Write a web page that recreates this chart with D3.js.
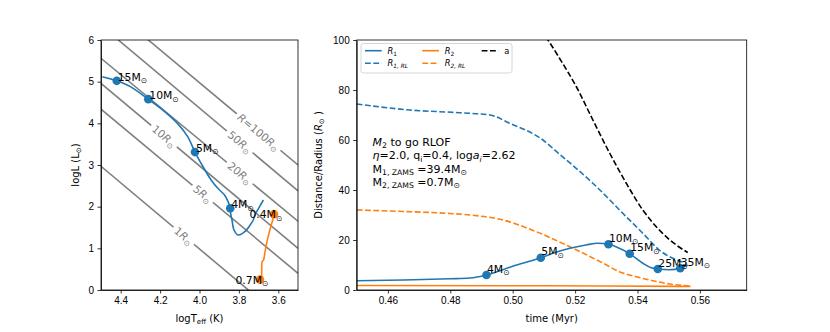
<!DOCTYPE html>
<html>
<head>
<meta charset="utf-8">
<script src="https://cdn.jsdelivr.net/npm/d3@7"></script>
<style>
  body { margin: 0; background: #fff; }
  svg { font-family: "DejaVu Sans", sans-serif; }
  .tick text { font-size: 10px; fill: #000; }
  .tick line, .domain { stroke: #000; stroke-width: 0.8; }
</style>
</head>
<body>
<svg width="830" height="332"></svg>
<script>
// ---- left panel: HR diagram ----
var track1T = [4.493, 4.42, 4.351, 4.26, 4.197, 4.112, 4.06, 4.023, 3.992, 3.941, 3.907, 3.873, 3.855, 3.844, 3.842, 3.835, 3.825, 3.804, 3.77, 3.74, 3.727, 3.719, 3.70, 3.676];
var track1L = [5.12, 5.02, 4.88, 4.58, 4.36, 4.00, 3.68, 3.31, 3.04, 2.64, 2.44, 2.28, 2.12, 1.96, 1.84, 1.68, 1.44, 1.32, 1.40, 1.58, 1.68, 1.80, 1.96, 2.16];
var track2T = [3.685, 3.684, 3.682, 3.675, 3.668, 3.658, 3.645, 3.632, 3.620];
var track2L = [0.22, 0.45, 0.68, 0.72, 0.90, 1.15, 1.40, 1.62, 1.82];

var dots1T = [4.42, 4.26, 4.023, 3.844];
var dots1L = [5.02, 4.58, 3.31, 1.96];
var dots1Mass = ['15', '10', '5', '4'];
var dots2T = [3.693, 3.622];
var dots2L = [0.25, 1.82];
var dots2Mass = ['0.7', '0.4'];

// constant radius lines: logL at logT = 4.5 and at logT = 3.5
var radii = [1, 5, 10, 20, 50, 100];
var radiusLHot = [2.97, 4.34, 4.96, 5.56, 6.35, 6.95];
var radiusLCool = [-1.0, 0.4, 1.0, 1.65, 2.38, 3.0];
var radiusLabelT = [4.08, 3.984, 4.18, 3.796, 3.796, 3.70];

var hrXTicks = [4.4, 4.2, 4.0, 3.8, 3.6];
var hrYTicks = [0, 1, 2, 3, 4, 5, 6];

// ---- right panel: radii vs time ----
var r1Time = [0.450, 0.465, 0.480, 0.4863, 0.4916, 0.500, 0.509, 0.5129, 0.5183, 0.5235, 0.5273, 0.5307, 0.5342, 0.5375, 0.5417, 0.5444, 0.5465, 0.5503, 0.5537, 0.5561];
var r1Val = [3.7, 4.0, 4.5, 4.8, 6.0, 9.5, 12.9, 14.7, 16.7, 18.0, 18.7, 18.3, 16.7, 14.5, 10.7, 8.9, 8.4, 8.1, 8.7, 10.0];
var r1rlTime = [0.450, 0.467, 0.483, 0.4927, 0.499, 0.5097, 0.515, 0.5193, 0.5257, 0.5364, 0.5417, 0.547, 0.5556];
var r1rlVal = [74.4, 72.0, 70.9, 70.0, 66.7, 60.0, 54.3, 49.8, 42.7, 29.3, 22.7, 16.0, 10.7];
var r2Time = [0.450, 0.500, 0.530, 0.557];
var r2Val = [1.8, 1.7, 1.6, 1.4];
var r2rlTime = [0.450, 0.465, 0.480, 0.4863, 0.4969, 0.5076, 0.5183, 0.529, 0.5342, 0.5396, 0.5449, 0.5503, 0.5567];
var r2rlVal = [32.0, 31.4, 30.6, 30.0, 28.0, 23.3, 17.3, 10.7, 7.3, 5.3, 3.7, 2.4, 1.6];
var aTime = [0.5090, 0.5113, 0.515, 0.5204, 0.5257, 0.5311, 0.5364, 0.5417, 0.547, 0.5524, 0.5561];
var aVal = [104, 100, 92.7, 81.3, 68.0, 54.7, 42.7, 32.0, 24.0, 18.0, 15.0];

var massTime = [0.4916, 0.509, 0.5307, 0.5375, 0.5465, 0.5537];
var massVal = [6.0, 12.9, 18.3, 14.5, 8.4, 8.7];
var massLabels = ['4', '5', '10', '15', '25', '35'];

var timeTicks = [0.46, 0.48, 0.50, 0.52, 0.54, 0.56];
var distTicks = [0, 20, 40, 60, 80, 100];

var BLUE = '#1f77b4', ORANGE = '#ff7f0e';
var LW = 1.6, DASH = '5.8,2.5', ANN = 10.8;

var svg = d3.select('svg');
svg.append('rect').attr('width', 830).attr('height', 332).attr('fill', '#fff');

// text with italic / subscript pieces, like matplotlib mathtext
function rich(text, parts, fs) {
  var shift = 0;
  parts.forEach(function(p) {
    var f = p[1] || '';
    var sub = f.indexOf('s') >= 0;
    var target = sub ? fs * 0.22 : 0;
    text.append('tspan')
      .attr('dy', target - shift)
      .attr('font-size', sub ? fs * 0.7 : fs)
      .attr('font-style', f.indexOf('i') >= 0 ? 'italic' : null)
      .text(p[0]);
    shift = target;
  });
  return text;
}
var SUN = '\u2299';

// ================= left panel =================
var xL = d3.scaleLinear().domain([4.5, 3.5]).range([101, 298]);
var yL = d3.scaleLinear().domain([0, 6]).range([290, 40]);

svg.append('clipPath').attr('id', 'clipL').append('rect')
   .attr('x', 101).attr('y', 40).attr('width', 197).attr('height', 250);
var left = svg.append('g').attr('clip-path', 'url(#clipL)');

var rLines = left.append('g');
radii.forEach(function(r, i) {
  rLines.append('line')
    .attr('x1', xL(4.5)).attr('y1', yL(radiusLHot[i]))
    .attr('x2', xL(3.5)).attr('y2', yL(radiusLCool[i]))
    .attr('stroke', '#808080').attr('stroke-width', LW);
});
var rLabels = left.append('g');
radii.forEach(function(r, i) {
  var t = radiusLabelT[i];
  var frac = (4.5 - t) / 1.0;
  var lv = radiusLHot[i] + (radiusLCool[i] - radiusLHot[i]) * frac;
  var px = xL(t), py = yL(lv);
  var ang = Math.atan2(yL(radiusLCool[i]) - yL(radiusLHot[i]), xL(3.5) - xL(4.5)) * 180 / Math.PI;
  var g = rLabels.append('g').attr('transform', 'translate(' + px + ',' + py + ') rotate(' + ang + ')');
  var bg = g.append('rect').attr('fill', '#fff');
  var parts = r === 100 ? [['R', 'i'], ['=100'], ['R', 'i'], [SUN, 's']] : [[String(r)], ['R', 'i'], [SUN, 's']];
  var tx = g.append('text').attr('text-anchor', 'middle').attr('y', 3.8).attr('fill', '#808080');
  rich(tx, parts, ANN);
  var bb = tx.node().getBBox();
  bg.attr('x', bb.x - 3).attr('y', -3).attr('width', bb.width + 6).attr('height', 6);
});

var lineHR = d3.line().x(function(d) { return xL(d[0]); }).y(function(d) { return yL(d[1]); })
  .curve(d3.curveCatmullRom.alpha(0.5));
left.append('path').attr('d', lineHR(d3.zip(track1T, track1L)))
  .attr('fill', 'none').attr('stroke', BLUE).attr('stroke-width', LW);
left.append('path').attr('d', lineHR(d3.zip(track2T, track2L)))
  .attr('fill', 'none').attr('stroke', ORANGE).attr('stroke-width', LW);

left.selectAll('.d1').data(d3.zip(dots1T, dots1L)).enter().append('circle')
  .attr('cx', function(d) { return xL(d[0]); }).attr('cy', function(d) { return yL(d[1]); })
  .attr('r', 4.3).attr('fill', BLUE);
left.selectAll('.d2').data(d3.zip(dots2T, dots2L)).enter().append('circle')
  .attr('cx', function(d) { return xL(d[0]); }).attr('cy', function(d) { return yL(d[1]); })
  .attr('r', 4.3).attr('fill', ORANGE);

var annL = svg.append('g');
dots1T.forEach(function(t, i) {
  var tx = annL.append('text').attr('x', xL(t) + 1).attr('y', yL(dots1L[i]));
  rich(tx, [[dots1Mass[i] + 'M'], [SUN, 's']], ANN);
});
dots2T.forEach(function(t, i) {
  var tx = annL.append('text').attr('x', xL(t) - 24.5).attr('y', yL(dots2L[i]) + 4);
  rich(tx, [[dots2Mass[i] + 'M'], [SUN, 's']], ANN);
});

svg.append('g').attr('transform', 'translate(0,290)')
  .call(d3.axisBottom(xL).tickValues(hrXTicks).tickFormat(d3.format('.1f')).tickSize(3.5).tickPadding(3.5).tickSizeOuter(0));
svg.append('g').attr('transform', 'translate(101,0)')
  .call(d3.axisLeft(yL).tickValues(hrYTicks).tickFormat(d3.format('d')).tickSize(3.5).tickPadding(3.5).tickSizeOuter(0));
svg.append('rect').attr('x', 101).attr('y', 40).attr('width', 197).attr('height', 250)
  .attr('fill', 'none').attr('stroke', '#000').attr('stroke-width', 0.8);

rich(svg.append('text').attr('x', 199.5).attr('y', 322).attr('text-anchor', 'middle'),
  [['logT'], ['eff', 's'], [' (K)']], 10);
rich(svg.append('text').attr('text-anchor', 'middle').attr('transform', 'translate(79,165) rotate(-90)'),
  [['logL (L'], [SUN, 's'], [')']], 10);

// ================= right panel =================
var xR = d3.scaleLinear().domain([0.45, 0.575]).range([356.7, 746.7]);
var yR = d3.scaleLinear().domain([0, 100]).range([290, 40]);

svg.append('clipPath').attr('id', 'clipR').append('rect')
   .attr('x', 356.7).attr('y', 40).attr('width', 390).attr('height', 250);
var right = svg.append('g').attr('clip-path', 'url(#clipR)');

var lineT = d3.line().x(function(d) { return xR(d[0]); }).y(function(d) { return yR(d[1]); })
  .curve(d3.curveMonotoneX);
var series = [
  { t: r1rlTime, v: r1rlVal, c: BLUE, dash: DASH },
  { t: r2rlTime, v: r2rlVal, c: ORANGE, dash: DASH },
  { t: aTime, v: aVal, c: '#000', dash: DASH },
  { t: r2Time, v: r2Val, c: ORANGE, dash: null },
  { t: r1Time, v: r1Val, c: BLUE, dash: null }
];
series.forEach(function(s) {
  right.append('path').attr('d', lineT(d3.zip(s.t, s.v)))
    .attr('fill', 'none').attr('stroke', s.c).attr('stroke-width', LW)
    .attr('stroke-dasharray', s.dash);
});
right.selectAll('.md').data(d3.zip(massTime, massVal)).enter().append('circle')
  .attr('cx', function(d) { return xR(d[0]); }).attr('cy', function(d) { return yR(d[1]); })
  .attr('r', 4.3).attr('fill', BLUE);

var annR = svg.append('g');
massTime.forEach(function(t, i) {
  var tx = annR.append('text').attr('x', xR(t) + 0.5).attr('y', yR(massVal[i]) - 2.5);
  rich(tx, [[massLabels[i] + 'M'], [SUN, 's']], ANN);
});

svg.append('g').attr('transform', 'translate(0,290)')
  .call(d3.axisBottom(xR).tickValues(timeTicks).tickFormat(d3.format('.2f')).tickSize(3.5).tickPadding(3.5).tickSizeOuter(0));
svg.append('g').attr('transform', 'translate(356.7,0)')
  .call(d3.axisLeft(yR).tickValues(distTicks).tickFormat(d3.format('d')).tickSize(3.5).tickPadding(3.5).tickSizeOuter(0));
svg.append('rect').attr('x', 356.7).attr('y', 40).attr('width', 390).attr('height', 250)
  .attr('fill', 'none').attr('stroke', '#000').attr('stroke-width', 0.8);

rich(svg.append('text').attr('x', 551.7).attr('y', 322).attr('text-anchor', 'middle'),
  [['time (Myr)']], 10);
rich(svg.append('text').attr('text-anchor', 'middle').attr('transform', 'translate(322,165) rotate(-90)'),
  [['Distance/Radius ('], ['R', 'i'], [SUN, 's'], [' )']], 10);

// info text
var info = [
  [['M', 'i'], ['2', 's'], [' to go RLOF']],
  [['\u03b7', 'i'], ['=2.0, q'], ['i', 's'], ['=0.4, log'], ['a', 'i'], ['i', 'si'], ['=2.62']],
  [['M'], ['1, ZAMS', 's'], [' =39.4M'], [SUN, 's']],
  [['M'], ['2, ZAMS', 's'], [' =0.7M'], [SUN, 's']]
];
info.forEach(function(parts, i) {
  rich(svg.append('text').attr('x', 372.5).attr('y', 146 + i * 13.3), parts, 11);
});

// legend
var leg = svg.append('g').attr('transform', 'translate(361,43.5)');
leg.append('rect').attr('width', 151).attr('height', 29.5).attr('rx', 2.5)
  .attr('fill', '#fff').attr('fill-opacity', 0.8).attr('stroke', '#cccccc').attr('stroke-width', 0.8);
var legItems = [
  { col: 0, row: 0, c: BLUE, dash: null, parts: [['R', 'i'], ['1', 's']] },
  { col: 0, row: 1, c: BLUE, dash: DASH, parts: [['R', 'i'], ['1, RL', 'si']] },
  { col: 1, row: 0, c: ORANGE, dash: null, parts: [['R', 'i'], ['2', 's']] },
  { col: 1, row: 1, c: ORANGE, dash: DASH, parts: [['R', 'i'], ['2, RL', 'si']] },
  { col: 2, row: 0, c: '#000', dash: DASH, parts: [['a']] }
];
var colX = [4, 61.3, 120.7];
legItems.forEach(function(it) {
  var x0 = colX[it.col], y0 = 7.2 + it.row * 12.6;
  leg.append('line').attr('x1', x0).attr('x2', x0 + 16.7).attr('y1', y0).attr('y2', y0)
    .attr('stroke', it.c).attr('stroke-width', LW).attr('stroke-dasharray', it.dash);
  rich(leg.append('text').attr('x', x0 + 22.5).attr('y', y0 + 3), it.parts, 8.3);
});
</script>
</body>
</html>
